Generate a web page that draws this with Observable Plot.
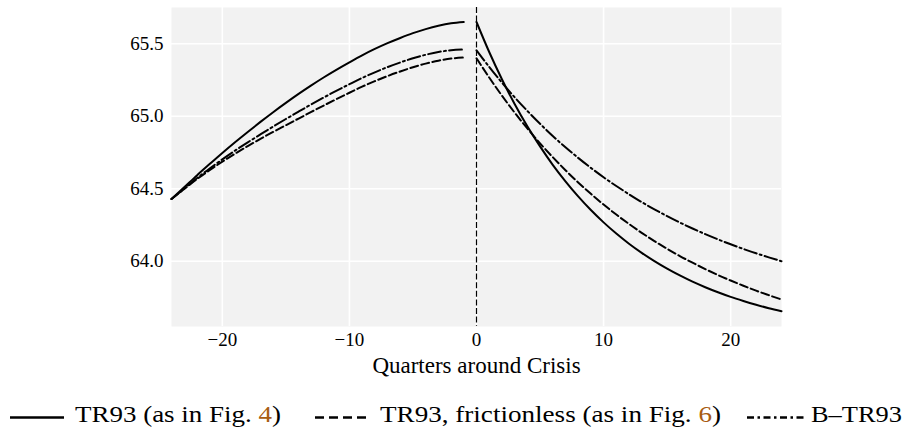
<!DOCTYPE html>
<html><head><meta charset="utf-8">
<script src="https://cdn.jsdelivr.net/npm/d3@7"></script>
<script src="https://cdn.jsdelivr.net/npm/@observablehq/plot@0.6"></script>
<style>
body{margin:0;background:#fff;}
#chart{width:904px;height:429px;}
#chart svg{display:block;}
</style></head><body><div id="chart"></div>
<script>
// ---- data ----
const preQuarters = [-24,-23,-22,-21,-20,-19,-18,-17,-16,-15,-14,-13,-12,-11,-10,-9,-8,-7,-6,-5,-4,-3,-2,-1];
const postQuarters = [0,1,2,3,4,5,6,7,8,9,10,11,12,13,14,15,16,17,18,19,20,21,22,23,24];

const tr93Pre = [64.429,64.510,64.592,64.670,64.747,64.821,64.892,64.961,65.028,65.092,65.154,65.213,65.269,65.322,65.372,65.420,65.464,65.504,65.540,65.573,65.601,65.624,65.641,65.650];
const tr93Post = [65.650,65.443,65.255,65.085,64.931,64.792,64.665,64.551,64.447,64.353,64.268,64.191,64.121,64.058,64.001,63.949,63.902,63.859,63.821,63.786,63.754,63.726,63.700,63.676,63.655];

const frictionlessPre = [64.429,64.498,64.566,64.628,64.687,64.742,64.794,64.844,64.892,64.938,64.984,65.030,65.075,65.119,65.162,65.204,65.242,65.277,65.309,65.338,65.363,65.383,65.398,65.405];
const frictionlessPost = [65.400,65.267,65.142,65.025,64.916,64.813,64.718,64.628,64.543,64.465,64.391,64.322,64.257,64.196,64.139,64.086,64.036,63.990,63.946,63.905,63.867,63.831,63.797,63.766,63.736];

const btr93Pre = [64.429,64.501,64.573,64.639,64.703,64.763,64.820,64.875,64.929,64.981,65.032,65.082,65.130,65.177,65.221,65.264,65.303,65.339,65.371,65.400,65.424,65.443,65.455,65.460];
const btr93Post = [65.455,65.340,65.232,65.131,65.037,64.948,64.864,64.786,64.713,64.644,64.579,64.519,64.462,64.408,64.358,64.311,64.267,64.226,64.187,64.151,64.117,64.085,64.055,64.027,64.000];

const xTicks = [-20,-10,0,10,20];
const yTicks = [64.0,64.5,65.0,65.5];
const crisisQuarter = [0];
const xLabel = "Quarters around Crisis";
const seriesNames = ["TR93", "TR93, frictionless", "B–TR93"];

// ---- build tables ----
function rows(name, pre, post) {
  return [
    ...preQuarters.map((q, i) => ({series: name, seg: name + "-pre", q, v: pre[i]})),
    ...postQuarters.map((q, i) => ({series: name, seg: name + "-post", q, v: post[i]}))
  ];
}
const dTR = rows(seriesNames[0], tr93Pre, tr93Post);
const dFR = rows(seriesNames[1], frictionlessPre, frictionlessPost);
const dBT = rows(seriesNames[2], btr93Pre, btr93Post);

const DASH = "8,3.4";
const DASHDOT = "12.8,3.2,2,3.2";
const FONT = "Liberation Serif, DejaVu Serif, Times New Roman, Times, serif";

const fmtX = d => d < 0 ? "\u2212" + Math.abs(d) : String(d);

const lineOpts = {x: "q", y: "v", z: "seg", stroke: "#000", strokeWidth: 2, curve: "monotone-x"};

const chart = Plot.plot({
  width: 904, height: 385,
  marginLeft: 171, marginRight: 123, marginTop: 7, marginBottom: 59,
  style: {fontFamily: FONT, fontSize: "19px", color: "#000", background: "transparent"},
  x: {domain: [-24, 24]},
  y: {domain: [63.55, 65.75]},
  marks: [
    Plot.frame({fill: "#f2f2f2", stroke: "none"}),
    Plot.gridX(xTicks, {stroke: "#fff", strokeOpacity: 1, strokeWidth: 1.6}),
    Plot.gridY(yTicks, {stroke: "#fff", strokeOpacity: 1, strokeWidth: 1.6}),
    Plot.ruleX(crisisQuarter, {stroke: "#000", strokeWidth: 1.2, strokeDasharray: "6,2.6"}),
    Plot.line(dTR, {...lineOpts}),
    Plot.line(dFR, {...lineOpts, strokeDasharray: DASH}),
    Plot.line(dBT, {...lineOpts, strokeDasharray: DASHDOT}),
    Plot.axisX(xTicks, {tickSize: 0, tickPadding: 6, tickFormat: fmtX, label: null, fontSize: 19, fontFamily: FONT}),
    Plot.axisY(yTicks, {tickSize: 0, tickPadding: 8, tickFormat: d => d.toFixed(1), label: null, fontSize: 19, fontFamily: FONT}),
    Plot.text([xLabel], {frameAnchor: "bottom", dy: 39, lineAnchor: "middle", text: d => d, fontSize: 23, fill: "#000", fontFamily: FONT})
  ]
});
document.getElementById("chart").appendChild(chart);

// ---- legend (below the plot) ----
const legendItems = [
  {label: "TR93 (as in Fig. ", fig: "4", dash: null, x0: 10, x1: 64, tx: 75, tl: 206},
  {label: "TR93, frictionless (as in Fig. ", fig: "6", dash: "9,5", x0: 315, x1: 371, tx: 380, tl: 341},
  {label: "B–TR93", fig: null, dash: "7,3.5,2.5,3.5", x0: 747, x1: 805, tx: 811, tl: 91}
];
const leg = d3.select("#chart").append("svg")
  .attr("width", 904).attr("height", 44)
  .attr("font-family", FONT).attr("font-size", 24);
for (const it of legendItems) {
  const ln = leg.append("line").attr("x1", it.x0).attr("x2", it.x1).attr("y1", 32.5).attr("y2", 32.5)
    .attr("stroke", "#000").attr("stroke-width", 2.6);
  if (it.dash) ln.attr("stroke-dasharray", it.dash);
  const t = leg.append("text").attr("x", it.tx).attr("y", 37).attr("fill", "#000")
    .attr("font-family", FONT)
    .attr("textLength", it.tl).attr("lengthAdjust", "spacingAndGlyphs");
  t.append("tspan").text(it.label);
  if (it.fig) {
    t.append("tspan").attr("fill", "#a85c12").text(it.fig);
    t.append("tspan").text(")");
  }
}
</script>
</body></html>
